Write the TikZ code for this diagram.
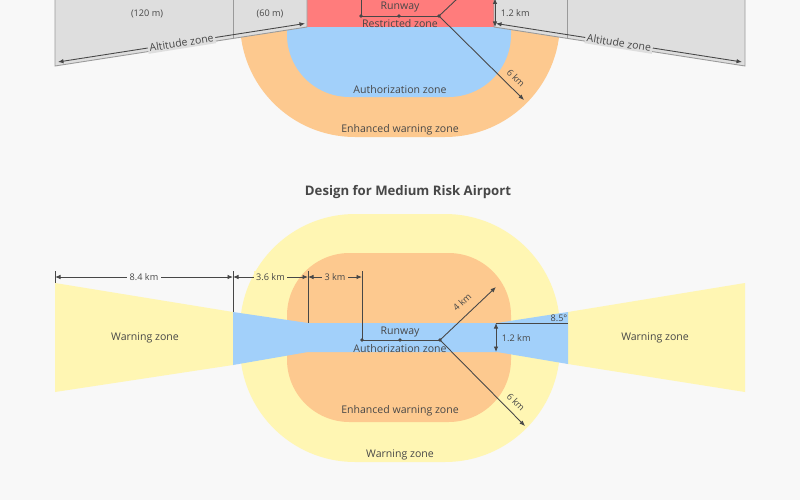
\documentclass[tikz,border=0pt]{standalone}
\usepackage{fontspec}
\setmainfont{Open Sans}
\usetikzlibrary{arrows.meta,positioning}
\definecolor{Paper}{HTML}{F8F8F8}
\definecolor{Ink}{HTML}{474747}
\definecolor{Warn}{HTML}{FFF6B3}
\definecolor{Enhanced}{HTML}{FDC98F}
\definecolor{Auth}{HTML}{A2D0FA}
\definecolor{Restrict}{HTML}{FF7C7C}
\definecolor{Alt}{HTML}{DEDEDE}
\definecolor{AltLine}{HTML}{9A9A9A}

\begin{document}
\begin{tikzpicture}[x=0.02cm,y=-0.02cm,
  zone/.style={font=\fontsize{6}{7}\selectfont,text=Ink,inner sep=1pt},
  dimtext/.style={font=\fontsize{5.2}{6}\selectfont,text=Ink,inner sep=1.5pt},
  title/.style={font=\fontsize{7.5}{9}\selectfont\bfseries,text=Ink},
  guide/.style={draw=Ink,line width=0.5pt},
  altedge/.style={draw=AltLine,line width=0.5pt},
  dimline/.style={{Latex[length=1.1mm,width=0.9mm]}-{Latex[length=1.1mm,width=0.9mm]},draw=Ink,line width=0.5pt},
  arrow/.style={-{Latex[length=1.1mm,width=0.9mm]},draw=Ink,line width=0.5pt},
  dot/.style={circle,fill=Ink,inner sep=0pt,minimum size=2.2pt}
]
\useasboundingbox (0,0) rectangle (800,500);
\fill[Paper] (0,0) rectangle (800,500);
\begin{scope}
\clip (0,0) rectangle (800,500);

% high risk airport (cut at the top)
\fill[Enhanced,rounded corners=2.3cm] (240,-111) rectangle (560,137);
\fill[Auth,rounded corners=1.25cm] (287,-72) rectangle (511,97);
\fill[Restrict] (307,-5) rectangle (494,27);
\filldraw[fill=Alt,altedge] (55,-45) -- (55,66) -- (307,27) -- (307,-45);
\filldraw[fill=Alt,altedge] (745,-45) -- (745,66) -- (494,27) -- (494,-45);
\draw[altedge] (233,-45) -- (233,38.5);
\draw[altedge] (567,-45) -- (567,38.5);
\node[dimtext] (m120) at (147,14) {(120 m)};
\node[dimtext] (m60) at (270,14) {(60 m)};

\coordinate (altL1) at (58,62);
\coordinate (altL2) at (305,23.5);
\coordinate (altR1) at (496,23.5);
\coordinate (altR2) at (742,62);
\draw[dimline] (altL1) -- node[zone,fill=Alt,rotate=9] (altL) {Altitude zone} (altL2);
\draw[dimline] (altR1) -- node[zone,fill=Alt,rotate=-9] (altR) {Altitude zone} (altR2);

\coordinate (tTop) at (361,-5);
\coordinate (tA) at (361,16);
\coordinate (tM) at (399,16);
\coordinate (tB) at (439,16);
\coordinate (t4) at (495,-37);
\coordinate (t6) at (524,100);
\draw[guide] (tTop) -- (tA) -- (tB);
\draw[arrow] (tB) -- (t4);
\draw[arrow] (tB) -- (t6);
\node[dot] (tdA) at (tA) {};
\node[dot] (tdM) at (tM) {};
\node[dot] (tdB) at (tB) {};
\node[dimtext,rotate=-45] (t6km) at (516,78) {6 km};

\coordinate (th1) at (495,-1.5);
\coordinate (th2) at (495,27);
\draw[dimline] (th1) -- (th2);
\node[dimtext,anchor=west] (t12km) at (498,13) {1.2 km};

\node[zone] (trunway) at (400,7) {Runway};
\node[zone] (trestr) at (400,24) {Restricted zone};
\node[zone] (tauth) at (400,90) {Authorization zone};
\node[zone] (tenh) at (400,130) {Enhanced warning zone};

% medium risk airport
\node[title] (design) at (408,192) {Design for Medium Risk Airport};

\fill[Warn,rounded corners=2.3cm] (240,214) rectangle (560,462);
\fill[Enhanced,rounded corners=1.25cm] (287,253) rectangle (511,422);
\fill[Warn] (55,283) -- (233,312) -- (233,365) -- (55,392) -- cycle;
\fill[Warn] (745,283) -- (568,312) -- (568,364) -- (745,392) -- cycle;
\fill[Auth] (233,312) -- (308,323) -- (497,323) -- (568,312)
  -- (568,364) -- (497,352) -- (308,352) -- (233,365) -- cycle;

\coordinate (w0) at (55,277);
\coordinate (w1) at (233,277);
\coordinate (w2) at (308,277);
\coordinate (w3) at (362,277);
\draw[guide] (55,271) -- (55,283);
\draw[guide] (233,271) -- (233,312);
\draw[guide] (308,271) -- (308,323);
\draw[dimline] (w0) -- node[dimtext,fill=Paper] (d84) {8.4 km} (w1);
\draw[dimline] (w1) -- node[dimtext,fill=Warn] (d36) {3.6 km} (w2);
\draw[dimline] (w2) -- node[dimtext,fill=Enhanced] (d3) {3 km} (w3);

\coordinate (bTop) at (362,271);
\coordinate (bA) at (362,340);
\coordinate (bM) at (400,340);
\coordinate (bB) at (440,340);
\coordinate (b4) at (496,287);
\coordinate (b6) at (525,426);
\draw[guide] (bTop) -- (bA) -- (bB);
\draw[arrow] (bB) -- (b4);
\draw[arrow] (bB) -- (b6);
\node[dot] (bdA) at (bA) {};
\node[dot] (bdM) at (bM) {};
\node[dot] (bdB) at (bB) {};
\node[dimtext,rotate=43] (b4km) at (462,302) {4 km};
\node[dimtext,rotate=-45] (b6km) at (516,402) {6 km};

\coordinate (bh1) at (496,323);
\coordinate (bh2) at (496,352);
\coordinate (bang) at (568,323);
\draw[dimline] (bh1) -- (bh2);
\draw[guide] (bh1) -- (bang);
\node[dimtext,anchor=west] (b12km) at (499,338) {1.2 km};
\node[dimtext] (b85) at (559,318) {8.5°};

\node[zone] (brunway) at (400,332) {Runway};
\node[zone] (bauth) at (400,349) {Authorization zone};
\node[zone] (bwarnL) at (145,338) {Warning zone};
\node[zone] (bwarnR) at (655,338) {Warning zone};
\node[zone] (benh) at (400,411) {Enhanced warning zone};
\node[zone] (bwarn) at (400,455) {Warning zone};
\end{scope}
\end{tikzpicture}
\end{document}
